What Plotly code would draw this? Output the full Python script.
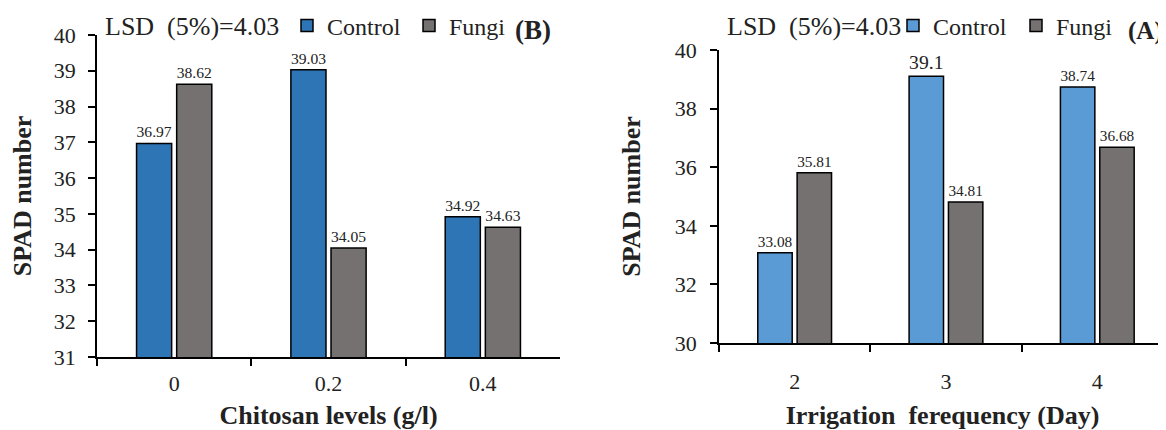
import plotly.graph_objects as go

# Panel B (left)
chitosan_levels = ["0", "0.2", "0.4"]
b_control = [36.97, 39.03, 34.92]
b_fungi = [38.62, 34.05, 34.63]

# Panel A (right)
irrigation_days = ["2", "3", "4"]
a_control = [33.08, 39.1, 38.74]
a_fungi = [35.81, 34.81, 36.68]

SERIF = "Liberation Serif"
TXT = "#222222"
OFF = 8  # page body margin of the browser
W, H = 1166 - OFF, 430 - OFF


def px_x(v):
    return (v - OFF) / W


def px_y(v):
    return 1 - (v - OFF) / H


fig = go.Figure()
line_style = dict(color="black", width=1.5)
lbl_font = dict(family=SERIF, size=20, color=TXT)


def add_bar(x, y, name, color, xa, ya, lg):
    fig.add_trace(go.Bar(x=x, y=y, name=name,
                         marker=dict(color=color, line=line_style),
                         text=[str(v) for v in y], textposition="outside",
                         cliponaxis=False, textfont=lbl_font,
                         xaxis=xa, yaxis=ya, legend=lg))


add_bar(chitosan_levels, b_control, "Control", "#2E75B6", "x", "y", "legend")
add_bar(chitosan_levels, b_fungi, "Fungi", "#767171", "x", "y", "legend")
add_bar(irrigation_days, a_control, "Control", "#5B9BD5", "x2", "y2", "legend2")
add_bar(irrigation_days, a_fungi, "Fungi", "#767171", "x2", "y2", "legend2")

axis_common = dict(showline=True, linecolor="black", linewidth=1.5, showgrid=False,
                   zeroline=False, ticks="outside", tickcolor="black", tickwidth=1.5,
                   ticklen=7, automargin=False,
                   tickfont=dict(family=SERIF, size=22, color=TXT))
title_font = dict(family=SERIF, size=26, color=TXT)

fig.update_layout(
    width=W, height=H,
    margin=dict(l=0, r=0, t=0, b=0, autoexpand=False),
    paper_bgcolor="white", plot_bgcolor="white",
    barmode="group", bargap=0.48, bargroupgap=0.125,
    font=dict(family=SERIF, color=TXT),
    xaxis=dict(domain=[px_x(97), px_x(560)], anchor="y", type="category",
               tickson="boundaries", range=[-0.5, 2.5], ticklabelstandoff=6,
               title=dict(text="<b>Chitosan levels (g/l)</b>", font=title_font, standoff=23),
               **axis_common),
    yaxis=dict(domain=[px_y(357), px_y(35)], anchor="x", range=[31, 40], dtick=1,
               ticklabelstandoff=8,
               title=dict(text="<b>SPAD number</b>", font=title_font, standoff=20),
               **axis_common),
    xaxis2=dict(domain=[px_x(719), 1.0], anchor="y2", type="category",
                tickson="boundaries", range=[-0.5, 2.454], ticklabelstandoff=18,
                title=dict(text="<b>Irrigation  ferequency (Day)</b>", font=title_font, standoff=23),
                **axis_common),
    yaxis2=dict(domain=[px_y(343), px_y(50)], anchor="x2", range=[30, 40], dtick=2,
                ticklabelstandoff=9,
                title=dict(text="<b>SPAD number</b>", font=title_font, standoff=27),
                **axis_common),
    legend=dict(orientation="h", x=px_x(287), y=px_y(26), xanchor="left", yanchor="middle",
                bgcolor="rgba(0,0,0,0)", itemwidth=30, traceorder="normal",
                entrywidth=77, entrywidthmode="pixels",
                font=dict(family=SERIF, size=24, color=TXT)),
    legend2=dict(orientation="h", x=px_x(893), y=px_y(26), xanchor="left", yanchor="middle",
                 bgcolor="rgba(0,0,0,0)", itemwidth=30, traceorder="normal",
                 entrywidth=78, entrywidthmode="pixels",
                 font=dict(family=SERIF, size=24, color=TXT)),
    annotations=[
        dict(text="LSD&nbsp; (5%)=4.03", xref="paper", yref="paper", x=px_x(103), y=px_y(26),
             xanchor="left", yanchor="middle", showarrow=False,
             font=dict(family=SERIF, size=26, color=TXT)),
        dict(text="<b>(B)</b>", xref="paper", yref="paper", x=px_x(513), y=px_y(30),
             xanchor="left", yanchor="middle", showarrow=False,
             font=dict(family=SERIF, size=27, color=TXT)),
        dict(text="LSD&nbsp; (5%)=4.03", xref="paper", yref="paper", x=px_x(725), y=px_y(26),
             xanchor="left", yanchor="middle", showarrow=False,
             font=dict(family=SERIF, size=26, color=TXT)),
        dict(text="<b>(A)</b>", xref="paper", yref="paper", x=px_x(1126), y=px_y(31),
             xanchor="left", yanchor="middle", showarrow=False,
             font=dict(family=SERIF, size=25, color=TXT)),
    ],
)

fig.write_html("out.html")
